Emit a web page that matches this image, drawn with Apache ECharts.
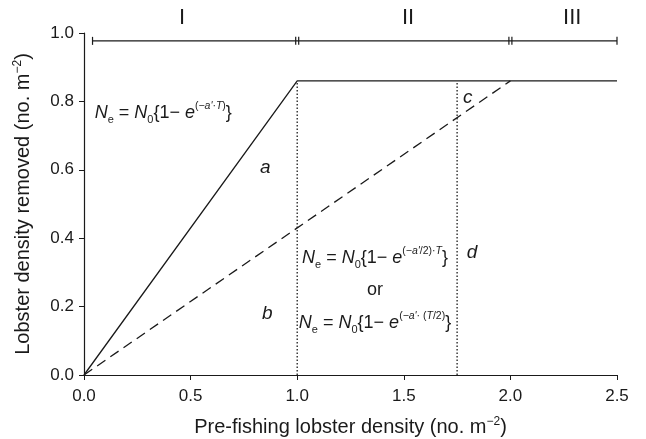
<!DOCTYPE html>
<html><head><meta charset="utf-8">
<script src="https://cdn.jsdelivr.net/npm/echarts@6/dist/echarts.min.js"></script>
<style>html,body{margin:0;padding:0;background:#fff}#c{width:646px;height:439px}</style>
</head><body><div id="c"></div>
<script>
// ---- data ----
const xTicks = [0, 0.5, 1.0, 1.5, 2.0, 2.5];
const yTicks = [0, 0.2, 0.4, 0.6, 0.8, 1.0];
const solidX = [0, 1.0, 2.5];
const solidY = [0, 0.86, 0.86];
const dashedX = [0, 2.0];
const dashedY = [0, 0.86];
const dottedX = [1.0, 1.75];
const dottedTop = 0.86;
const regionNames = ['I', 'II', 'III'];
const regionLabelX = [0.46, 1.52, 2.29];
const regionBounds = [0.04, 1.0, 2.0, 2.5];
const bracketY = 0.977;
const letterNames = ['a', 'b', 'c', 'd'];
const letterX = [0.85, 0.86, 1.80, 1.82];
const letterY = [0.605, 0.18, 0.81, 0.357];

const FONT = '"Liberation Sans", Arial, sans-serif';
const chart = echarts.init(document.getElementById('c'), null, {renderer: 'canvas'});

const toPairs = (xs, ys) => xs.map((x, i) => [x, ys[i]]);

const series = [
  {type: 'line', data: toPairs(solidX, solidY), symbol: 'none', silent: true,
   lineStyle: {color: '#1a1a1a', width: 1.3}},
  {type: 'line', data: toPairs(dashedX, dashedY), symbol: 'none', silent: true,
   lineStyle: {color: '#1a1a1a', width: 1.3, type: [10, 6]}}
];
dottedX.forEach(x => series.push({
  type: 'line', data: [[x, 0], [x, dottedTop]], symbol: 'none', silent: true,
  lineStyle: {color: '#1a1a1a', width: 1.3, type: [1.5, 2]}
}));

const nameStyle = {color: '#1a1a1a', fontSize: 20, fontFamily: FONT, lineHeight: 22,
  rich: {sup: {fontSize: 12, fontFamily: FONT, color: '#1a1a1a', verticalAlign: 'top', lineHeight: 12}}};

chart.setOption({
  animation: false,
  backgroundColor: '#fff',
  grid: {left: 84, right: 29, top: 33, bottom: 64, containLabel: false, outerBoundsMode: 'none'},
  xAxis: {
    type: 'value', min: 0, max: 2.5, interval: 0.5,
    splitLine: {show: false},
    axisLine: {lineStyle: {color: '#1a1a1a', width: 1.2}},
    axisTick: {show: true, length: 5, lineStyle: {color: '#1a1a1a'}},
    axisLabel: {color: '#1a1a1a', fontSize: 17, fontFamily: FONT, margin: 13,
      formatter: v => v.toFixed(1)},
    name: 'Pre-fishing lobster density (no. m{sup|−2})',
    nameLocation: 'middle', nameGap: 41,
    nameTextStyle: nameStyle
  },
  yAxis: {
    type: 'value', min: 0, max: 1.0, interval: 0.2,
    splitLine: {show: false},
    axisLine: {show: true, lineStyle: {color: '#1a1a1a', width: 1.2}},
    axisTick: {show: true, length: 5, lineStyle: {color: '#1a1a1a'}},
    axisLabel: {color: '#1a1a1a', fontSize: 17, fontFamily: FONT, margin: 10,
      formatter: v => v.toFixed(1)},
    name: 'Lobster density removed (no. m{sup|−2})',
    nameLocation: 'middle', nameGap: 50,
    nameTextStyle: nameStyle
  },
  series: series
});

// ---- annotations positioned through the axes ----
const px = (x, y) => chart.convertToPixel({gridIndex: 0}, [x, y]);
const graphics = [];
const lineStroke = {stroke: '#1a1a1a', lineWidth: 1.2};

// bracket
const bL = px(regionBounds[0], bracketY), bR = px(regionBounds[regionBounds.length - 1], bracketY);
graphics.push({type: 'line', shape: {x1: bL[0], y1: bL[1], x2: bR[0], y2: bR[1]}, style: lineStroke, silent: true});
regionBounds.forEach((b, i) => {
  const p = px(b, bracketY);
  const inner = i > 0 && i < regionBounds.length - 1;
  const offs = inner ? [-1.5, 1.5] : [0];
  offs.forEach(o => graphics.push({type: 'line',
    shape: {x1: p[0] + o, y1: p[1] - 4, x2: p[0] + o, y2: p[1] + 4}, style: lineStroke, silent: true}));
});
regionNames.forEach((n, i) => {
  const p = px(regionLabelX[i], 1.044);
  graphics.push({type: 'text', x: p[0], y: p[1], silent: true,
    style: {text: n, font: '22px ' + FONT, fill: '#1a1a1a', align: 'center', verticalAlign: 'middle'}});
});
// letters
letterNames.forEach((n, i) => {
  const p = px(letterX[i], letterY[i]);
  graphics.push({type: 'text', x: p[0], y: p[1], silent: true,
    style: {text: n, font: 'italic 19px ' + FONT, fill: '#1a1a1a', align: 'center', verticalAlign: 'middle'}});
});
// equations
const eqRich = {
  n: {fontSize: 18, fontStyle: 'italic', fontFamily: FONT, lineHeight: 24, color: '#1a1a1a'},
  sub: {fontSize: 11, fontFamily: FONT, lineHeight: 11, verticalAlign: 'bottom', color: '#1a1a1a'},
  sup: {fontSize: 10.5, fontFamily: FONT, lineHeight: 11, verticalAlign: 'top', color: '#1a1a1a'},
  supi: {fontSize: 10.5, fontStyle: 'italic', fontFamily: FONT, lineHeight: 11, verticalAlign: 'top', color: '#1a1a1a'}
};
const eqs = [
  {x: 0.05, y: 0.766, align: 'left',
   text: '{n|N}{sub|e} = {n|N}{sub|0}{1− {n|e}{sup|(−}{supi|a\'}{sup|·}{supi|T}{sup|)}}'},
  {x: 1.365, y: 0.342, align: 'center',
   text: '{n|N}{sub|e} = {n|N}{sub|0}{1− {n|e}{sup|(−}{supi|a\'}{sup|/2)·}{supi|T}}'},
  {x: 1.365, y: 0.249, align: 'center', text: 'or'},
  {x: 1.365, y: 0.152, align: 'center',
   text: '{n|N}{sub|e} = {n|N}{sub|0}{1− {n|e}{sup|(−}{supi|a\'}{sup|· (}{supi|T}{sup|/2)}}'}
];
eqs.forEach(e => {
  const p = px(e.x, e.y);
  graphics.push({type: 'text', x: p[0], y: p[1], silent: true,
    style: {text: e.text, rich: eqRich, fontSize: 18, fontFamily: FONT, lineHeight: 24,
      fill: '#1a1a1a', align: e.align, verticalAlign: 'middle'}});
});
chart.setOption({graphic: graphics});
</script>
</body></html>
